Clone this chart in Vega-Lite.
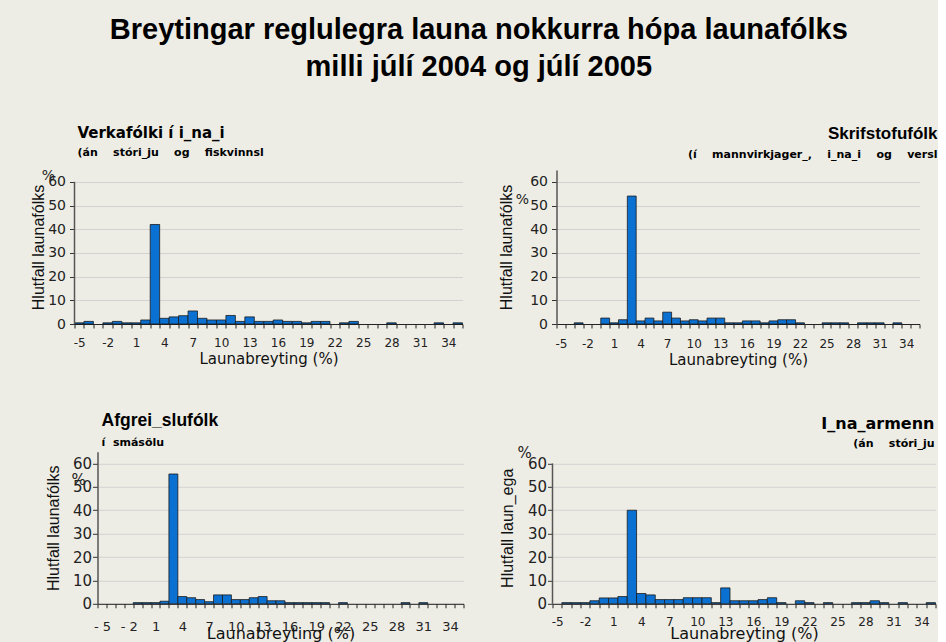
{
  "$schema": "https://vega.github.io/schema/vega-lite/v6.json",
  "background": "#eeede5",
  "padding": {"left": 29.5, "top": 16, "right": 0, "bottom": 0},
  "config": {
    "view": {"stroke": null},
    "bar": {"fill": "#0a71d3", "stroke": "#1a1a1a", "strokeWidth": 0.8},
    "axisY": {"labelOverlap": false, "tickCount": 7, "grid": true, "gridColor": "#d2d2d2", "tickSize": 5, "tickColor": "#333", "domainColor": "#555", "domainWidth": 1.5, "labelFont": "DejaVu Sans", "labelFontSize": 14, "labelColor": "#222", "labelPadding": 4, "titleFont": "Liberation Sans", "titleFontSize": 16, "titleFontWeight": "normal", "titleColor": "#111"},
    "axisX": {"grid": false, "labelAngle": 0, "labelOverlap": false, "tickBand": "extent", "tickSize": 4, "tickColor": "#222", "domainColor": "#222", "labelFont": "DejaVu Sans", "labelFontSize": 12, "labelColor": "#222", "titleFont": "DejaVu Sans", "titleFontSize": 15, "titleFontWeight": "normal", "titleColor": "#111", "labelExpr": "(datum.value + 5) % 3 == 0 ? datum.value : ''"}
  },
  "title": {"text": ["Breytingar reglulegra launa nokkurra hópa launafólks", "milli júlí 2004 og júlí 2005"], "font": "Liberation Sans", "fontSize": 29, "fontWeight": "bold", "color": "#000", "lineHeight": 37, "anchor": "middle", "offset": 43, "dx": -5},
  "datasets": {
    "verkafolk": [
      {"breyting": -5, "hlutfall": 0.5}, {"breyting": -4, "hlutfall": 1.1}, {"breyting": -2, "hlutfall": 0.5}, {"breyting": -1, "hlutfall": 1.1},
      {"breyting": 0, "hlutfall": 0.5}, {"breyting": 1, "hlutfall": 0.5}, {"breyting": 2, "hlutfall": 1.7}, {"breyting": 3, "hlutfall": 42},
      {"breyting": 4, "hlutfall": 2.4}, {"breyting": 5, "hlutfall": 3.0}, {"breyting": 6, "hlutfall": 3.5}, {"breyting": 7, "hlutfall": 5.5},
      {"breyting": 8, "hlutfall": 2.4}, {"breyting": 9, "hlutfall": 1.7}, {"breyting": 10, "hlutfall": 1.7}, {"breyting": 11, "hlutfall": 3.6},
      {"breyting": 12, "hlutfall": 1.1}, {"breyting": 13, "hlutfall": 3.0}, {"breyting": 14, "hlutfall": 1.1}, {"breyting": 15, "hlutfall": 1.1},
      {"breyting": 16, "hlutfall": 1.7}, {"breyting": 17, "hlutfall": 1.1}, {"breyting": 18, "hlutfall": 1.1}, {"breyting": 19, "hlutfall": 0.5},
      {"breyting": 20, "hlutfall": 1.1}, {"breyting": 21, "hlutfall": 1.1}, {"breyting": 23, "hlutfall": 0.5}, {"breyting": 24, "hlutfall": 1.1},
      {"breyting": 28, "hlutfall": 0.5}, {"breyting": 33, "hlutfall": 0.5}, {"breyting": 35, "hlutfall": 0.5}
    ],
    "skrifstofufolk": [
      {"breyting": -3, "hlutfall": 0.5}, {"breyting": 0, "hlutfall": 2.5}, {"breyting": 1, "hlutfall": 0.5}, {"breyting": 2, "hlutfall": 1.8},
      {"breyting": 3, "hlutfall": 54}, {"breyting": 4, "hlutfall": 1.3}, {"breyting": 5, "hlutfall": 2.5}, {"breyting": 6, "hlutfall": 1.3},
      {"breyting": 7, "hlutfall": 5.0}, {"breyting": 8, "hlutfall": 2.5}, {"breyting": 9, "hlutfall": 1.3}, {"breyting": 10, "hlutfall": 1.8},
      {"breyting": 11, "hlutfall": 1.3}, {"breyting": 12, "hlutfall": 2.5}, {"breyting": 13, "hlutfall": 2.5}, {"breyting": 14, "hlutfall": 0.5},
      {"breyting": 15, "hlutfall": 0.5}, {"breyting": 16, "hlutfall": 1.3}, {"breyting": 17, "hlutfall": 1.3}, {"breyting": 18, "hlutfall": 0.5},
      {"breyting": 19, "hlutfall": 1.3}, {"breyting": 20, "hlutfall": 1.8}, {"breyting": 21, "hlutfall": 1.8}, {"breyting": 22, "hlutfall": 0.5},
      {"breyting": 25, "hlutfall": 0.5}, {"breyting": 26, "hlutfall": 0.5}, {"breyting": 27, "hlutfall": 0.5}, {"breyting": 29, "hlutfall": 0.5},
      {"breyting": 30, "hlutfall": 0.5}, {"breyting": 31, "hlutfall": 0.5}, {"breyting": 33, "hlutfall": 0.5}
    ],
    "afgreidslufolk": [
      {"breyting": -1, "hlutfall": 0.5}, {"breyting": 0, "hlutfall": 0.5}, {"breyting": 1, "hlutfall": 0.5}, {"breyting": 2, "hlutfall": 1.1},
      {"breyting": 3, "hlutfall": 55.5}, {"breyting": 4, "hlutfall": 3.1}, {"breyting": 5, "hlutfall": 2.6}, {"breyting": 6, "hlutfall": 1.8},
      {"breyting": 7, "hlutfall": 0.9}, {"breyting": 8, "hlutfall": 3.8}, {"breyting": 9, "hlutfall": 3.8}, {"breyting": 10, "hlutfall": 1.8},
      {"breyting": 11, "hlutfall": 1.8}, {"breyting": 12, "hlutfall": 2.6}, {"breyting": 13, "hlutfall": 3.1}, {"breyting": 14, "hlutfall": 1.3},
      {"breyting": 15, "hlutfall": 1.3}, {"breyting": 16, "hlutfall": 0.5}, {"breyting": 17, "hlutfall": 0.5}, {"breyting": 18, "hlutfall": 0.5},
      {"breyting": 19, "hlutfall": 0.5}, {"breyting": 20, "hlutfall": 0.5}, {"breyting": 22, "hlutfall": 0.5}, {"breyting": 29, "hlutfall": 0.5},
      {"breyting": 31, "hlutfall": 0.5}
    ],
    "idnadarmenn": [
      {"breyting": -4, "hlutfall": 0.5}, {"breyting": -3, "hlutfall": 0.5}, {"breyting": -2, "hlutfall": 0.5}, {"breyting": -1, "hlutfall": 1.3},
      {"breyting": 0, "hlutfall": 2.5}, {"breyting": 1, "hlutfall": 2.5}, {"breyting": 2, "hlutfall": 3.1}, {"breyting": 3, "hlutfall": 40},
      {"breyting": 4, "hlutfall": 4.4}, {"breyting": 5, "hlutfall": 3.8}, {"breyting": 6, "hlutfall": 1.8}, {"breyting": 7, "hlutfall": 1.8},
      {"breyting": 8, "hlutfall": 1.8}, {"breyting": 9, "hlutfall": 2.6}, {"breyting": 10, "hlutfall": 2.6}, {"breyting": 11, "hlutfall": 2.6},
      {"breyting": 12, "hlutfall": 0.5}, {"breyting": 13, "hlutfall": 6.8}, {"breyting": 14, "hlutfall": 1.3}, {"breyting": 15, "hlutfall": 1.3},
      {"breyting": 16, "hlutfall": 1.3}, {"breyting": 17, "hlutfall": 1.8}, {"breyting": 18, "hlutfall": 2.6}, {"breyting": 19, "hlutfall": 0.5},
      {"breyting": 21, "hlutfall": 1.3}, {"breyting": 22, "hlutfall": 0.5}, {"breyting": 24, "hlutfall": 0.5}, {"breyting": 27, "hlutfall": 0.5},
      {"breyting": 28, "hlutfall": 0.5}, {"breyting": 29, "hlutfall": 1.3}, {"breyting": 30, "hlutfall": 0.5}, {"breyting": 32, "hlutfall": 0.5},
      {"breyting": 35, "hlutfall": 0.5}
    ]
  },
  "bounds": "flush",
  "spacing": 281.8,
  "vconcat": [
    {
      "bounds": "flush",
      "spacing": 94,
      "hconcat": [
        {
          "width": 388, "height": 154,
          "title": {"text": "Verkafólki í i_na_i", "subtitle": "(án\u00a0\u00a0\u00a0\u00a0stóri_ju\u00a0\u00a0\u00a0\u00a0og\u00a0\u00a0\u00a0\u00a0fiskvinnsl", "anchor": "start", "frame": "group", "font": "DejaVu Sans", "fontSize": 15, "fontWeight": "bold", "color": "#000", "subtitleFont": "DejaVu Sans", "subtitleFontSize": 11, "subtitleFontWeight": "bold", "subtitleColor": "#000", "subtitlePadding": 5.5, "offset": 11.5, "dx": 3},
          "layer": [
            {
              "data": {"name": "verkafolk"},
              "mark": "bar",
              "encoding": {
                "x": {"field": "breyting", "type": "ordinal", "scale": {"domain": [-5,-4,-3,-2,-1,0,1,2,3,4,5,6,7,8,9,10,11,12,13,14,15,16,17,18,19,20,21,22,23,24,25,26,27,28,29,30,31,32,33,34,35], "paddingInner": 0, "paddingOuter": 0}, "axis": {"title": "Launabreyting (%)", "labelPadding": 9.5, "titlePadding": 3}},
                "y": {"field": "hlutfall", "type": "quantitative", "scale": {"domain": [0, 65], "nice": false}, "axis": {"title": "Hlutfall launafólks", "values": [0, 10, 20, 30, 40, 50, 60], "tickCount": 7, "domain": false, "titlePadding": 1.5}}
              }
            },
            {
              "data": {"values": [{"merki": "%"}]},
              "mark": {"type": "text", "font": "DejaVu Sans", "fontSize": 14, "color": "#222", "dx": -26},
              "encoding": {"x": {"datum": -5, "type": "ordinal", "bandPosition": 0}, "y": {"datum": 62.4, "type": "quantitative"}, "text": {"field": "merki"}}
            },
            {
              "data": {"values": [{}]},
              "mark": {"type": "rule", "color": "#555", "strokeWidth": 1.5},
              "encoding": {"x": {"datum": -5, "type": "ordinal", "bandPosition": 0}, "y": {"datum": 0, "type": "quantitative"}, "y2": {"datum": 60}}
            }
          ]
        },
        {
          "width": 363, "height": 154,
          "title": {"text": "Skrifstofufólk", "subtitle": "(í\u00a0\u00a0\u00a0\u00a0mannvirkjager_,\u00a0\u00a0\u00a0\u00a0i_na_i\u00a0\u00a0\u00a0\u00a0og\u00a0\u00a0\u00a0\u00a0versl", "anchor": "end", "frame": "group", "font": "Liberation Sans", "fontSize": 17, "fontWeight": "bold", "color": "#000", "subtitleFont": "DejaVu Sans", "subtitleFontSize": 11, "subtitleFontWeight": "bold", "subtitleColor": "#000", "subtitlePadding": 6, "offset": 9, "dx": 18},
          "layer": [
            {
              "data": {"name": "skrifstofufolk"},
              "mark": "bar",
              "encoding": {
                "x": {"field": "breyting", "type": "ordinal", "scale": {"domain": [-5,-4,-3,-2,-1,0,1,2,3,4,5,6,7,8,9,10,11,12,13,14,15,16,17,18,19,20,21,22,23,24,25,26,27,28,29,30,31,32,33,34,35], "paddingInner": 0, "paddingOuter": 0}, "axis": {"title": "Launabreyting (%)", "labelPadding": 10, "titlePadding": 3}},
                "y": {"field": "hlutfall", "type": "quantitative", "scale": {"domain": [0, 65], "nice": false}, "axis": {"title": "Hlutfall launafólks", "values": [0, 10, 20, 30, 40, 50, 60], "tickCount": 7, "titlePadding": 15.5}}
              }
            },
            {
              "data": {"values": [{"merki": "%"}]},
              "mark": {"type": "text", "font": "DejaVu Sans", "fontSize": 14, "color": "#222", "dx": -34},
              "encoding": {"x": {"datum": -5, "type": "ordinal", "bandPosition": 0}, "y": {"datum": 52.5, "type": "quantitative"}, "text": {"field": "merki"}}
            }
          ]
        }
      ]
    },
    {
      "bounds": "flush",
      "spacing": 0,
      "hconcat": [
        {
          "width": 22.4, "height": 10,
          "data": {"values": [{"autt": ""}]},
          "mark": {"type": "text"},
          "encoding": {"text": {"field": "autt"}}
        },
        {
          "bounds": "flush",
          "spacing": 89,
          "hconcat": [
            {
              "width": 366, "height": 152,
              "title": {"text": "Afgrei_slufólk", "subtitle": "í\u00a0\u00a0smásölu", "anchor": "start", "frame": "group", "font": "Liberation Sans", "fontSize": 17.5, "fontWeight": "bold", "color": "#000", "subtitleFont": "DejaVu Sans", "subtitleFontSize": 11, "subtitleFontWeight": "bold", "subtitleColor": "#000", "subtitlePadding": 7.5, "offset": 3.5, "dx": 4},
              "layer": [
                {
                  "data": {"name": "afgreidslufolk"},
                  "mark": "bar",
                  "encoding": {
                    "x": {"field": "breyting", "type": "ordinal", "scale": {"domain": [-5,-4,-3,-2,-1,0,1,2,3,4,5,6,7,8,9,10,11,12,13,14,15,16,17,18,19,20,21,22,23,24,25,26,27,28,29,30,31,32,33,34,35], "paddingInner": 0, "paddingOuter": 0}, "axis": {"title": "Launabreyting (%)", "labelPadding": 13, "labelFontSize": 13, "titleFontSize": 16, "titlePadding": -8.5, "labelExpr": "(datum.value + 5) % 3 == 0 ? (datum.value < 0 ? '- ' + abs(datum.value) : datum.value) : ''"}},
                    "y": {"field": "hlutfall", "type": "quantitative", "scale": {"domain": [0, 65], "nice": false}, "axis": {"title": "Hlutfall launafólks", "values": [0, 10, 20, 30, 40, 50, 60], "tickCount": 7, "labelFontSize": 15, "labelPadding": 1, "titlePadding": 11}}
                  }
                },
                {
                  "data": {"values": [{"merki": "%"}]},
                  "mark": {"type": "text", "font": "DejaVu Sans", "fontSize": 15, "color": "#222", "dx": -19},
                  "encoding": {"x": {"datum": -5, "type": "ordinal", "bandPosition": 0}, "y": {"datum": 53, "type": "quantitative"}, "text": {"field": "merki"}}
                }
              ]
            },
            {
              "width": 383, "height": 152,
              "title": {"text": "I_na_armenn", "subtitle": "(án\u00a0\u00a0\u00a0\u00a0stóri_ju", "anchor": "end", "frame": "group", "font": "DejaVu Sans", "fontSize": 16, "fontWeight": "bold", "color": "#000", "subtitleFont": "DejaVu Sans", "subtitleFontSize": 11, "subtitleFontWeight": "bold", "subtitleColor": "#000", "subtitlePadding": 6.5, "offset": -3.5, "dx": -1},
              "layer": [
                {
                  "data": {"name": "idnadarmenn"},
                  "mark": "bar",
                  "encoding": {
                    "x": {"field": "breyting", "type": "ordinal", "scale": {"domain": [-5,-4,-3,-2,-1,0,1,2,3,4,5,6,7,8,9,10,11,12,13,14,15,16,17,18,19,20,21,22,23,24,25,26,27,28,29,30,31,32,33,34,35], "paddingInner": 0, "paddingOuter": 0}, "axis": {"title": "Launabreyting (%)", "labelPadding": 9, "titleFontSize": 16, "titlePadding": -2.5}},
                    "y": {"field": "hlutfall", "type": "quantitative", "scale": {"domain": [0, 65], "nice": false}, "axis": {"title": "Hlutfall laun_ega", "values": [0, 10, 20, 30, 40, 50, 60], "tickCount": 7, "domain": false, "labelFontSize": 15, "labelPadding": 1, "titlePadding": 11.5}}
                  }
                },
                {
                  "data": {"values": [{"merki": "%"}]},
                  "mark": {"type": "text", "font": "DejaVu Sans", "fontSize": 15, "color": "#222", "dx": -28},
                  "encoding": {"x": {"datum": -5, "type": "ordinal", "bandPosition": 0}, "y": {"datum": 64.5, "type": "quantitative"}, "text": {"field": "merki"}}
                },
                {
                  "data": {"values": [{}]},
                  "mark": {"type": "rule", "color": "#555", "strokeWidth": 1.5},
                  "encoding": {"x": {"datum": -5, "type": "ordinal", "bandPosition": 0}, "y": {"datum": 0, "type": "quantitative"}, "y2": {"datum": 60}}
                }
              ]
            }
          ]
        }
      ]
    }
  ]
}
